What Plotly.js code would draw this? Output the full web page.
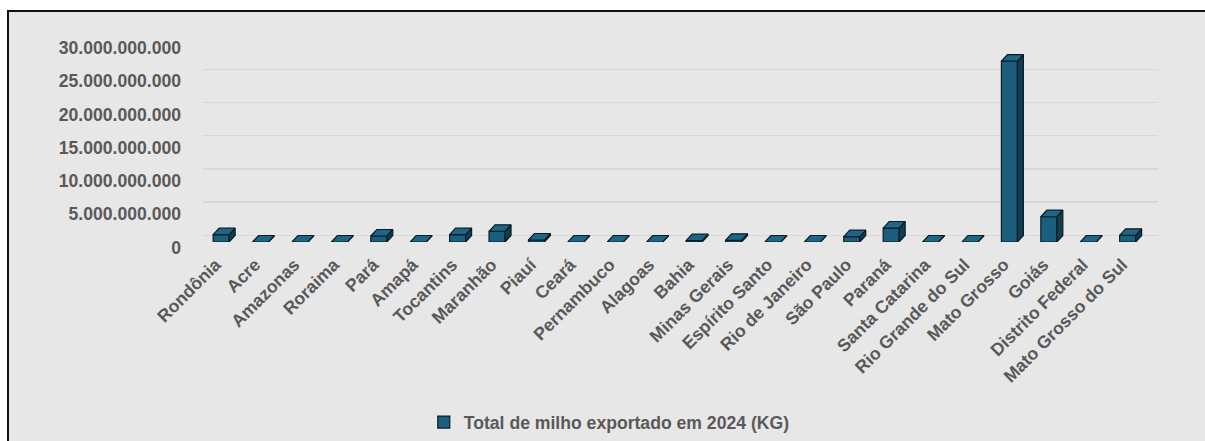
<!DOCTYPE html>
<html>
<head>
<meta charset="utf-8">
<script src="https://cdn.plot.ly/plotly-3.0.1.min.js"></script>
<style>
  html, body { margin: 0; padding: 0; background: #ffffff; }
  #frame { position: absolute; left: 7px; top: 10px; width: 1198px; height: 431px;
           border-left: 2px solid #111; border-top: 2px solid #111; background: #e7e7e7; box-sizing: border-box; }
  #chart { width: 1196px; height: 429px; }
</style>
</head>
<body>
<div id="frame"><div id="chart"></div></div>
<script>
const categories = ["Rondônia", "Acre", "Amazonas", "Roraima", "Pará", "Amapá", "Tocantins", "Maranhão", "Piauí", "Ceará", "Pernambuco", "Alagoas", "Bahia", "Minas Gerais", "Espírito Santo", "Rio de Janeiro", "São Paulo", "Paraná", "Santa Catarina", "Rio Grande do Sul", "Mato Grosso", "Goiás", "Distrito Federal", "Mato Grosso do Sul"];
const values = [1.1e9, 0, 0, 0, 0.9e9, 0, 1.1e9, 1.6e9, 0.3e9, 0, 0, 0, 0.2e9, 0.25e9, 0, 0, 0.8e9, 2.1e9, 0, 0, 27.2e9, 3.8e9, 0, 1.0e9];
const seriesName = "Total de milho exportado em 2024 (KG)";
const yTicks = [0, 5e9, 10e9, 15e9, 20e9, 25e9, 30e9];

// styling / 3D look parameters
const plotW = 955, plotH = 206;
const xMin = -0.5, xMax = 23.73;
const yMax = 30e9;
const pxPerX = plotW / (xMax - xMin);
const depthYpx = 6.5, depthXpx = 6;
const pxPerY = 199 / 30e9;
const dyB = depthYpx / pxPerY;
const yMin = -dyB;
const dxU = depthXpx / pxPerX;
const w = 16 / pxPerX;
const shift = -0.04;

const idx = categories.map((_, i) => i);

const sideX = [], sideY = [], topX = [], topY = [];
values.forEach((v, i) => {
  const l = i + shift - w / 2, r = i + shift + w / 2;
  const b = -dyB, t = v - dyB;
  sideX.push(r, r + dxU, r + dxU, r, r, null);
  sideY.push(b, b + dyB, t + dyB, t, b, null);
  topX.push(l, r, r + dxU, l + dxU, l, null);
  topY.push(t, t, t + dyB, t + dyB, t, null);
});

const font = { family: "Liberation Sans, Arial, sans-serif", size: 17.6, color: "#595959", weight: "bold" };

const traces = [
  { type: "bar", name: seriesName, x: idx, y: values, base: values.map(() => -dyB),
    width: w, offset: shift - w / 2,
    marker: { color: "#1a5f7e", line: { color: "#0b1c24", width: 1.2 } },
    showlegend: true, hoverinfo: "skip" },
  { type: "scatter", mode: "lines", x: sideX, y: sideY, fill: "toself", fillcolor: "#0f3d52",
    line: { color: "#0b1c24", width: 1.2 }, showlegend: false, hoverinfo: "skip", connectgaps: false },
  { type: "scatter", mode: "lines", x: topX, y: topY, fill: "toself", fillcolor: "#1d6686",
    line: { color: "#0b1c24", width: 1.2 }, showlegend: false, hoverinfo: "skip", connectgaps: false }
];

const layout = {
  width: 1196, height: 429,
  paper_bgcolor: "#e7e7e7", plot_bgcolor: "#e7e7e7",
  margin: { l: 194, r: 47, t: 24, b: 199, autoexpand: false },
  separators: ",.",
  font: font,
  showlegend: true,
  legend: { orientation: "h", xref: "container", yref: "container", x: 0.657, xanchor: "right",
            y: 0.044, yanchor: "middle", font: font, bgcolor: "rgba(0,0,0,0)", itemwidth: 30 },
  xaxis: { type: "linear", range: [xMin, xMax], tickvals: idx, ticktext: categories,
           tickangle: -45, showgrid: false, zeroline: false, showline: false, ticks: "",
           tickfont: font, ticklabelstandoff: 8, ticklabelshift: -7, automargin: false, fixedrange: true },
  yaxis: { range: [yMin, yMax], tickvals: yTicks, tickformat: ",.0f", showgrid: true,
           gridcolor: "#d8d8d8", gridwidth: 1.5, zeroline: false, showline: false, ticks: "",
           tickfont: font, ticklabelstandoff: 21, ticklabelshift: 12, automargin: false, fixedrange: true }
};

Plotly.newPlot("chart", traces, layout, { displayModeBar: false, staticPlot: true });
</script>
</body>
</html>
